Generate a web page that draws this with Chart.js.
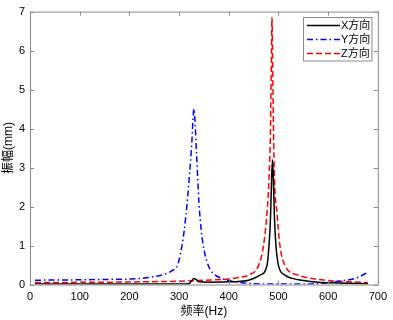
<!DOCTYPE html>
<html>
<head>
<meta charset="utf-8">
<script src="https://cdn.jsdelivr.net/npm/chart.js@4.4.1/dist/chart.umd.min.js"></script>
<style>
  body { margin: 0; background: #fff; }
  #wrap { width: 393px; height: 320px; }
</style>
</head>
<body>
<div id="wrap"><canvas id="chart" width="393" height="320"></canvas></div>
<script>
// Spectrum data (Hz -> mm)
const freqX = [10, 100, 200, 300, 320, 325, 330, 335, 340, 360, 400, 420, 440, 463, 477, 481, 484, 486, 488, 490, 492, 495, 500, 513, 530, 547, 580, 620, 680];
const ampX = [0.01, 0.01, 0.01, 0.01, 0.02, 0.09, 0.155, 0.12, 0.07, 0.06, 0.07, 0.08, 0.11, 0.24, 0.49, 1.0, 1.7, 2.6, 3.2, 2.6, 1.7, 1.0, 0.49, 0.24, 0.15, 0.11, 0.06, 0.04, 0.02];

const freqY = [10, 50, 100, 150, 200, 250, 270, 285, 297, 303, 310, 317, 325, 330, 335, 340, 345, 350, 360, 370, 385, 400, 420, 450, 500, 550, 600, 630, 650, 665, 680];
const ampY = [0.11, 0.115, 0.12, 0.13, 0.14, 0.2, 0.26, 0.35, 0.5, 0.8, 1.35, 2.2, 3.5, 4.5, 3.4, 2.1, 1.35, 0.9, 0.45, 0.27, 0.16, 0.1, 0.06, 0.02, 0.01, 0.01, 0.05, 0.1, 0.14, 0.21, 0.32];

const freqZ = [10, 100, 200, 300, 350, 400, 420, 440, 460, 470, 477, 481, 484, 486, 487, 488, 490, 492, 497, 503, 513, 540, 570, 600, 640, 680];
const ampZ = [0.05, 0.055, 0.065, 0.085, 0.11, 0.14, 0.18, 0.24, 0.49, 1.0, 1.85, 2.7, 4.0, 6.0, 6.85, 6.0, 4.0, 2.7, 1.85, 1.0, 0.49, 0.24, 0.15, 0.1, 0.07, 0.05];

const seriesLabels = ['X方向', 'Y方向', 'Z方向'];
const xTicks = [0, 100, 200, 300, 400, 500, 600, 700];
const yTicks = [0, 1, 2, 3, 4, 5, 6, 7];

const FONT = '"Liberation Sans", Arial, "Noto Sans CJK SC", sans-serif';
const axisGray = '#8a8a8a';

function toPoints(xs, ys) {
  return xs.map((x, i) => ({ x: x, y: ys[i] }));
}

const styles = [
  { color: '#000000', dash: [] },
  { color: '#0000ff', dash: [6, 3, 1.5, 3] },
  { color: '#ff0000', dash: [6, 3] }
];

// Box + inward ticks on all four sides, MATLAB style
const boxPlugin = {
  id: 'boxTicks',
  afterDatasetsDraw(chart) {
    const { ctx, chartArea: a, scales } = chart;
    ctx.save();
    ctx.strokeStyle = axisGray;
    ctx.lineWidth = 1;
    ctx.beginPath();
    ctx.rect(a.left + 0.5, a.top + 0.5, a.right - a.left, a.bottom - a.top);
    ctx.stroke();
    const len = 4;
    ctx.beginPath();
    xTicks.forEach(v => {
      const px = Math.round(scales.x.getPixelForValue(v)) + 0.5;
      ctx.moveTo(px, a.bottom); ctx.lineTo(px, a.bottom - len);
      ctx.moveTo(px, a.top); ctx.lineTo(px, a.top + len);
    });
    yTicks.forEach(v => {
      const py = Math.round(scales.y.getPixelForValue(v)) + 0.5;
      ctx.moveTo(a.left, py); ctx.lineTo(a.left + len, py);
      ctx.moveTo(a.right, py); ctx.lineTo(a.right - len, py);
    });
    ctx.stroke();
    ctx.restore();
  },
  afterDraw(chart) {
    // legend box in the upper right corner
    const { ctx } = chart;
    const bx = 303.5, by = 17.5, bw = 68.5, bh = 43.5;
    ctx.save();
    ctx.fillStyle = '#fff';
    ctx.fillRect(bx, by, bw, bh);
    ctx.strokeStyle = axisGray;
    ctx.lineWidth = 1;
    ctx.strokeRect(bx, by, bw, bh);
    const rows = [25.5, 39.5, 53.5];
    ctx.font = '11px ' + FONT;
    ctx.textBaseline = 'middle';
    seriesLabels.forEach((lab, i) => {
      ctx.strokeStyle = styles[i].color;
      ctx.lineWidth = 1.5;
      ctx.setLineDash(styles[i].dash);
      ctx.beginPath();
      ctx.moveTo(307, rows[i]);
      ctx.lineTo(340, rows[i]);
      ctx.stroke();
      ctx.setLineDash([]);
      ctx.fillStyle = '#000';
      ctx.fillText(lab, 341, rows[i] + 0.5);
    });
    ctx.restore();
  }
};

const ctx = document.getElementById('chart').getContext('2d');
new Chart(ctx, {
  type: 'line',
  data: {
    datasets: [
      { label: seriesLabels[0], data: toPoints(freqX, ampX) },
      { label: seriesLabels[1], data: toPoints(freqY, ampY) },
      { label: seriesLabels[2], data: toPoints(freqZ, ampZ) }
    ].map((d, i) => Object.assign(d, {
      borderColor: styles[i].color,
      borderDash: styles[i].dash,
      borderWidth: 1.5,
      pointRadius: 0,
      fill: false,
      cubicInterpolationMode: 'monotone'
    }))
  },
  options: {
    responsive: false,
    animation: false,
    layout: { padding: { top: 10, right: 13, left: 0, bottom: 0 } },
    plugins: {
      legend: { display: false },
      tooltip: { enabled: false }
    },
    scales: {
      x: {
        type: 'linear',
        min: 0,
        max: 700,
        afterFit: (s) => { s.height = 35.5; },
        afterBuildTicks: (s) => { s.ticks = xTicks.map(v => ({ value: v })); },
        grid: { display: false, drawTicks: false },
        border: { display: false },
        ticks: { color: '#000', padding: 6, font: { family: FONT, size: 11 } },
        title: {
          display: true,
          text: '频率(Hz)',
          color: '#000',
          padding: { top: 0, bottom: 1 },
          font: { family: FONT, size: 12 }
        }
      },
      y: {
        min: 0,
        max: 7,
        afterFit: (s) => { s.width = 30; },
        afterBuildTicks: (s) => { s.ticks = yTicks.map(v => ({ value: v })); },
        grid: { display: false, drawTicks: false },
        border: { display: false },
        ticks: { color: '#000', padding: 5, font: { family: FONT, size: 11 } },
        title: {
          display: true,
          text: '振幅(mm)',
          color: '#000',
          padding: { top: 1, bottom: 0 },
          font: { family: FONT, size: 12 }
        }
      }
    }
  },
  plugins: [boxPlugin]
});
</script>
</body>
</html>
